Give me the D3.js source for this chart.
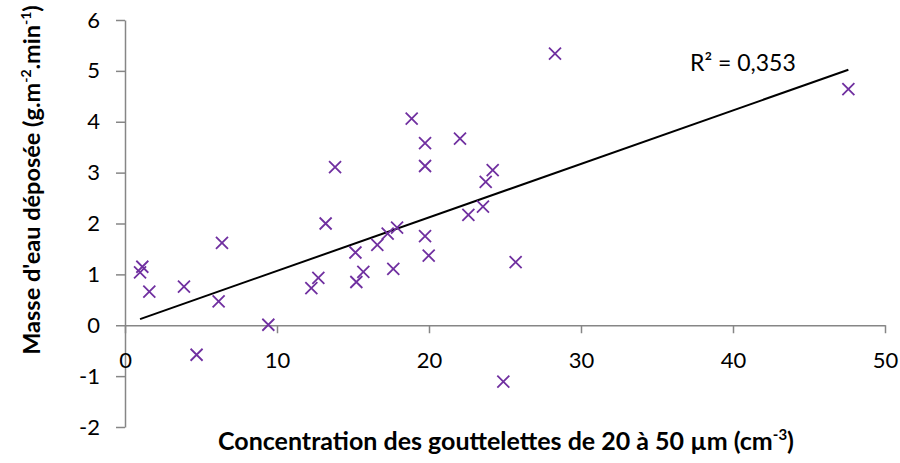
<!DOCTYPE html>
<html>
<head>
<meta charset="utf-8">
<script src="https://cdn.jsdelivr.net/npm/d3@7"></script>
<style>
  html, body { margin: 0; padding: 0; background: #fff; }
  svg { display: block; font-family: Lato, "Open Sans", sans-serif; }
</style>
</head>
<body>
<svg id="chart" width="900" height="463"></svg>
<script>
// Data
const concentration = [0.99, 1.14, 1.6, 3.88, 4.71, 6.16, 6.38, 9.43, 12.26, 12.72, 13.2, 13.82, 15.16, 15.22, 15.68, 16.6, 17.28, 17.65, 17.9, 18.86, 19.74, 19.74, 19.74, 19.98, 22.04, 22.59, 23.55, 23.73, 24.19, 24.89, 25.7, 28.29, 47.59];
const masse = [1.04, 1.15, 0.66, 0.76, -0.58, 0.47, 1.62, 0.01, 0.73, 0.93, 2.0, 3.11, 1.43, 0.85, 1.05, 1.58, 1.8, 1.11, 1.92, 4.06, 3.58, 3.13, 1.75, 1.37, 3.67, 2.17, 2.33, 2.82, 3.05, -1.11, 1.24, 5.34, 4.64];
const trendSlope = 0.1052;
const trendIntercept = 0.016;
const r2Label = "R² = 0,353";
const xTicks = [0, 10, 20, 30, 40, 50];
const yTicks = [-2, -1, 0, 1, 2, 3, 4, 5, 6];

const svg = d3.select("#chart");
const x = d3.scaleLinear().domain([0, 50]).range([125, 885]);
const y = d3.scaleLinear().domain([-2, 6]).range([427, 20]);
const axisColor = "#868686";
const purple = "#7030A0";

// Y axis
const yAxis = svg.append("g")
  .attr("transform", `translate(${x(0)},0)`)
  .call(d3.axisLeft(y).tickValues(yTicks).tickFormat(d => String(d)).tickSize(9).tickSizeOuter(0).tickPadding(16));
yAxis.select(".domain").attr("stroke", axisColor).attr("stroke-width", 1.5);
yAxis.selectAll(".tick line").attr("stroke", axisColor).attr("stroke-width", 1.5);
yAxis.selectAll(".tick text").attr("fill", "#000").attr("font-size", 22).attr("font-family", "Lato, sans-serif");

// X axis (crosses at y = 0)
const xAxis = svg.append("g")
  .attr("transform", `translate(0,${y(0)})`)
  .call(d3.axisBottom(x).tickValues(xTicks).tickFormat(d => String(d)).tickSize(8).tickSizeOuter(0).tickPadding(19));
xAxis.select(".domain").attr("stroke", axisColor).attr("stroke-width", 1.5);
xAxis.selectAll(".tick line").attr("stroke", axisColor).attr("stroke-width", 1.5);
xAxis.selectAll(".tick text").attr("fill", "#000").attr("font-size", 22).attr("font-family", "Lato, sans-serif");

// Trend line
const x0 = d3.min(concentration), x1 = d3.max(concentration);
svg.append("line")
  .attr("x1", x(x0)).attr("y1", y(trendSlope * x0 + trendIntercept))
  .attr("x2", x(x1)).attr("y2", y(trendSlope * x1 + trendIntercept))
  .attr("stroke", "#000").attr("stroke-width", 2);

// Points
const pts = concentration.map((c, i) => [c, masse[i]]);
svg.append("g").selectAll("path").data(pts).join("path")
  .attr("transform", d => `translate(${x(d[0])},${y(d[1])})`)
  .attr("d", "M-6,-6L6,6M-6,6L6,-6")
  .attr("stroke", purple).attr("stroke-width", 1.8).attr("fill", "none");

// R² label
svg.append("text")
  .attr("x", 690).attr("y", 71)
  .attr("font-size", 23).attr("fill", "#000")
  .text(r2Label);

// X axis title
const xt = svg.append("text")
  .attr("x", 506).attr("y", 450)
  .attr("text-anchor", "middle")
  .attr("font-size", 25).attr("font-weight", "bold").attr("fill", "#000");
xt.append("tspan").text("Concentration des gouttelettes de 20 à 50 µm (cm");
xt.append("tspan").attr("font-size", 15).attr("dy", -10).text("-3");
xt.append("tspan").attr("dy", 10).text(")");

// Y axis title
const yt = svg.append("text")
  .attr("transform", "translate(40,180) rotate(-90)")
  .attr("text-anchor", "middle")
  .attr("font-size", 23.5).attr("font-weight", "bold").attr("fill", "#000");
yt.append("tspan").text("Masse d'eau déposée (g.m");
yt.append("tspan").attr("font-size", 14).attr("dy", -9).text("-2");
yt.append("tspan").attr("dy", 9).text(".min");
yt.append("tspan").attr("font-size", 14).attr("dy", -9).text("-1");
yt.append("tspan").attr("dy", 9).text(")");
</script>
</body>
</html>
